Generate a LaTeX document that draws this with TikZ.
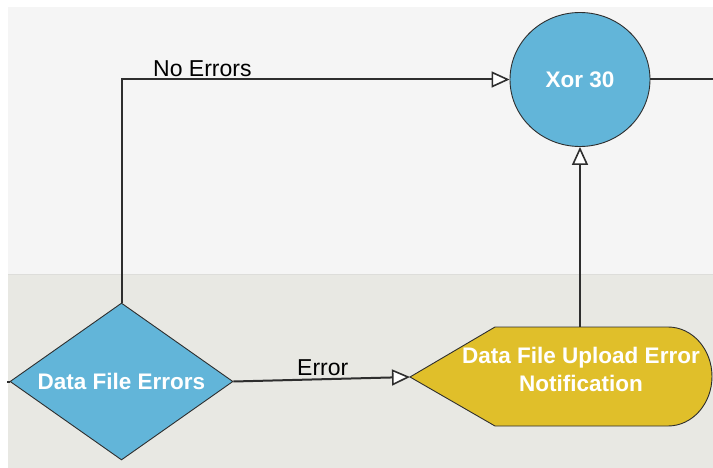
\documentclass[tikz,border=0pt]{standalone}
\usepackage{fontspec}
\setmainfont{Liberation Sans}
\usetikzlibrary{shapes.geometric,arrows.meta,calc}
\definecolor{laneA}{HTML}{F5F5F5}
\definecolor{laneB}{HTML}{E8E8E3}
\definecolor{laneline}{HTML}{DDDDDA}
\definecolor{nodeblue}{HTML}{62B5D9}
\definecolor{nodegold}{HTML}{E0BF2A}
\definecolor{edgecol}{HTML}{2E2E2E}
\begin{document}
\begin{tikzpicture}[x=1pt,y=-1pt,
  lbl/.style={font=\fontsize{23}{28}\selectfont, text=black, inner sep=0pt},
  wlbl/.style={font=\fontsize{22.5}{28}\selectfont\bfseries, text=white, align=center, inner sep=0pt},
  shapeline/.style={draw=edgecol, line width=0.9pt},
  edgeline/.style={draw=edgecol, line width=2pt},
  conn/.style={edgeline, -{Triangle[length=18pt,width=16pt,fill=white,line width=1.6pt]}}]
\useasboundingbox (0,0) rectangle (713,468);
% lanes
\fill[laneA] (8,7) rectangle (713,274);
\fill[laneB] (8,274) rectangle (713,470);
\draw[laneline, line width=1pt] (8,274) -- (713,274);
% nodes
\node[ellipse, shapeline, fill=nodeblue, minimum width=140pt, minimum height=134pt, wlbl] (xor) at (580,79.5) {Xor 30};
\node[diamond, shapeline, fill=nodeblue, minimum width=223pt, minimum height=157pt, aspect=1.42, wlbl] (dfe) at (121.5,381.5) {Data File Errors};
% notification (display shape)
\coordinate (nW) at (410,377);
\coordinate (nN) at (580,327);
\filldraw[fill=nodegold, shapeline] (nW) -- (495,327) -- (668,327)
  arc[start angle=90, end angle=-90, x radius=44pt, y radius=49.5pt] -- (495,426) -- cycle;
\node[wlbl] (ntxt) at (581,369) {Data File Upload Error\\Notification};
% connectors
\coordinate (inL) at (7,381.5);
\coordinate (outR) at (713,79.5);
\draw[edgeline] (inL) -- (dfe.west);
\draw[edgeline] (xor.east) -- (outR);
\draw[conn] (dfe.north) |- (xor.west);
\draw[conn] (dfe.east) -- (nW);
\draw[conn] (nN) -- (xor.south);
% labels
\node[lbl, anchor=base west] (lno) at (153,77) {No Errors};
\node[lbl, anchor=base west] (lerr) at (297,375) {Error};
\end{tikzpicture}
\end{document}
